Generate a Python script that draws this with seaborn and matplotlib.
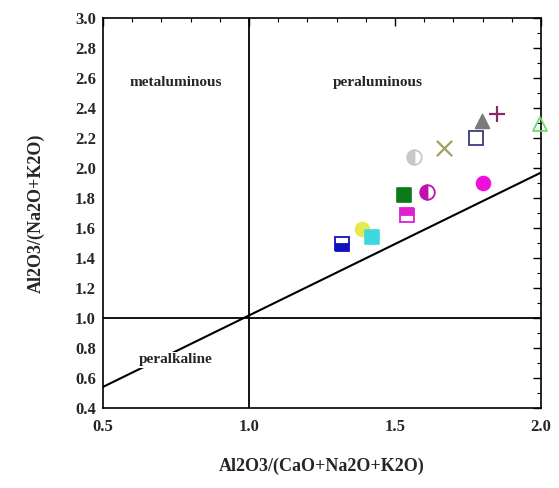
import matplotlib
matplotlib.use("Agg")
import matplotlib.pyplot as plt
from matplotlib.ticker import MultipleLocator
import seaborn as sns
import pandas as pd

sns.set_theme(style="white")
plt.rcParams["font.family"] = ["Liberation Serif", "DejaVu Serif"]

# Sample compositions (A/CNK, A/NK)
acnk = [1.317, 1.386, 1.421, 1.531, 1.541, 1.610, 1.800, 1.566, 1.666, 1.776, 1.797, 1.848, 1.997]
ank = [1.493, 1.593, 1.540, 1.820, 1.687, 1.840, 1.900, 2.073, 2.133, 2.200, 2.313, 2.360, 2.293]
markers = ["s", "o", "s", "s", "s", "o", "o", "o", "x", "s", "^", "+", "^"]
colors = ["#1010c0", "#e8e850", "#40d8e0", "#0a7a1a", "#e020d0", "#c010b0", "#ee10d8",
          "#c8c8c8", "#a0a060", "#3a3a80", "#7a7a7a", "#8a2a6a", "#70d870"]
fills = ["bottom", "full", "full", "full", "top", "left", "full", "left", "full", "none", "full", "full", "none"]

# Boundary lines
div_x = 1.0
div_y = 1.0
diag_x = [0.5, 2.0]
diag_y = [0.54, 1.97]

x_ticks = [0.5, 1.0, 1.5, 2.0]
y_ticks = [0.4, 0.6, 0.8, 1.0, 1.2, 1.4, 1.6, 1.8, 2.0, 2.2, 2.4, 2.6, 2.8, 3.0]

df = pd.DataFrame({"acnk": acnk, "ank": ank, "marker": markers, "color": colors, "fill": fills})

fig = plt.figure(figsize=(5.59, 4.88), dpi=100)
ax = fig.add_axes([0.184, 0.164, 0.784, 0.799])

ax.axvline(div_x, color="black", lw=1.3)
ax.axhline(div_y, color="black", lw=1.3)
sns.lineplot(x=diag_x, y=diag_y, ax=ax, color="black", lw=1.5)

for _, r in df.iterrows():
    if r["fill"] == "full" and r["marker"] not in ("x", "+"):
        sns.scatterplot(x=[r["acnk"]], y=[r["ank"]], ax=ax, marker=r["marker"],
                        color=r["color"], s=100, edgecolor=r["color"], linewidth=1.2,
                        zorder=3, clip_on=False)
    elif r["marker"] in ("x", "+"):
        sns.scatterplot(x=[r["acnk"]], y=[r["ank"]], ax=ax, marker=r["marker"],
                        color=r["color"], s=120, linewidth=1.6, zorder=3, clip_on=False)
    else:
        ax.plot(r["acnk"], r["ank"], marker=r["marker"], markersize=10.5,
                fillstyle=r["fill"], color=r["color"], markerfacecoloralt="white",
                markeredgecolor=r["color"], markeredgewidth=1.3, ls="none",
                zorder=3, clip_on=False)

ax.set_xlim(0.5, 2.0)
ax.set_ylim(0.4, 3.0)
ax.set_xticks(x_ticks)
ax.set_yticks(y_ticks)
ax.set_xticklabels([f"{v:.1f}" for v in x_ticks], fontweight="bold", fontsize=12)
ax.set_yticklabels([f"{v:.1f}" for v in y_ticks], fontweight="bold", fontsize=12)
ax.xaxis.set_minor_locator(MultipleLocator(0.1))
ax.yaxis.set_minor_locator(MultipleLocator(0.1))
ax.tick_params(which="both", direction="in", top=True, right=True, color="black")
ax.tick_params(which="major", length=6, width=1)
ax.tick_params(which="minor", length=3, width=0.8)
ax.tick_params(axis="x", pad=8)
ax.tick_params(axis="y", pad=5)
for s in ax.spines.values():
    s.set_color("black")
    s.set_linewidth(1.2)

ax.text(0.75, 2.57, "metaluminous", ha="center", va="center", fontsize=11, fontweight="bold")
ax.text(1.44, 2.57, "peraluminous", ha="center", va="center", fontsize=11, fontweight="bold")
ax.text(0.75, 0.72, "peralkaline", ha="center", va="center", fontsize=11, fontweight="bold",
        bbox=dict(facecolor="white", edgecolor="none", pad=1.0), zorder=4)

ax.set_xlabel("Al2O3/(CaO+Na2O+K2O)", fontsize=13, fontweight="bold", labelpad=16)
ax.set_ylabel("Al2O3/(Na2O+K2O)", fontsize=13, fontweight="bold", labelpad=22)

fig.savefig("out.png", dpi=100)
